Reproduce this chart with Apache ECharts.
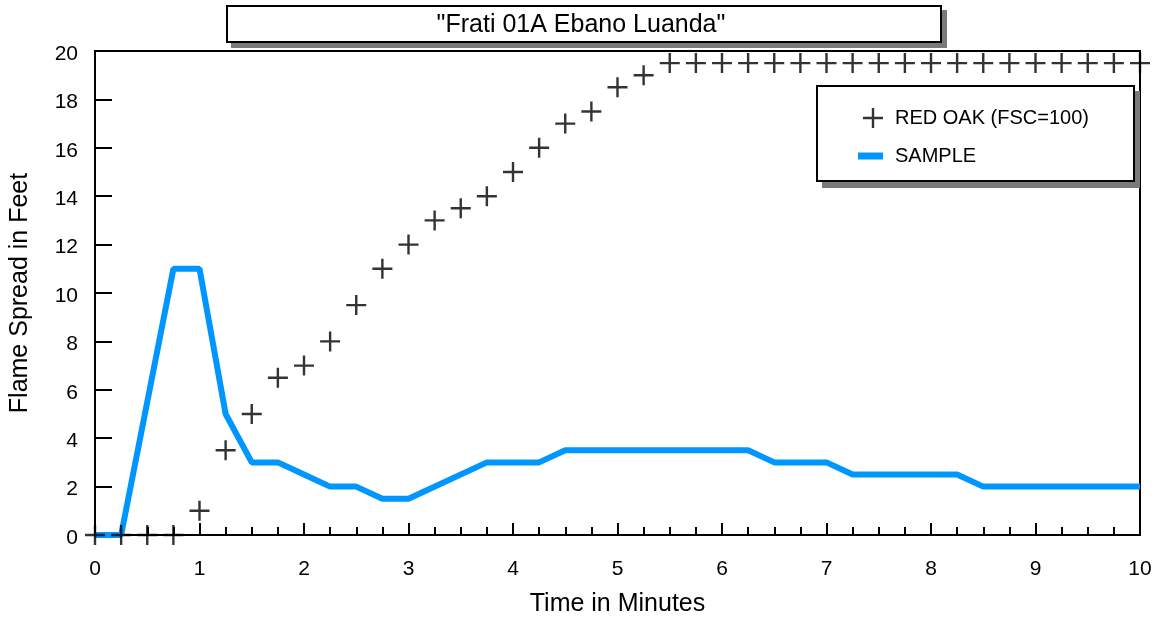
<!DOCTYPE html>
<html><head><meta charset="utf-8">
<script src="https://cdn.jsdelivr.net/npm/echarts@6/dist/echarts.min.js"></script>
<style>html,body{margin:0;padding:0;background:#fff}#c{width:1162px;height:622px}</style>
</head><body><div id="c"></div>
<script>
const chartTitle = '"Frati 01A Ebano Luanda"';
const xAxisName = 'Time in Minutes';
const yAxisName = 'Flame Spread in Feet';
const seriesNames = ['RED OAK (FSC=100)', 'SAMPLE'];

const redOakTime = [0, 0.25, 0.5, 0.75, 1, 1.25, 1.5, 1.75, 2, 2.25, 2.5, 2.75, 3, 3.25, 3.5, 3.75, 4, 4.25, 4.5, 4.75, 5, 5.25, 5.5, 5.75, 6, 6.25, 6.5, 6.75, 7, 7.25, 7.5, 7.75, 8, 8.25, 8.5, 8.75, 9, 9.25, 9.5, 9.75, 10];
const redOakSpread = [0, 0, 0, 0, 1, 3.5, 5, 6.5, 7, 8, 9.5, 11, 12, 13, 13.5, 14, 15, 16, 17, 17.5, 18.5, 19, 19.5, 19.5, 19.5, 19.5, 19.5, 19.5, 19.5, 19.5, 19.5, 19.5, 19.5, 19.5, 19.5, 19.5, 19.5, 19.5, 19.5, 19.5, 19.5];

const sampleTime = [0, 0.25, 0.75, 1, 1.25, 1.5, 1.75, 2, 2.25, 2.5, 2.75, 3, 3.75, 4.25, 4.5, 6.25, 6.5, 7, 7.25, 8.25, 8.5, 10];
const sampleSpread = [0, 0, 11, 11, 5, 3, 3, 2.5, 2, 2, 1.5, 1.5, 3, 3, 3.5, 3.5, 3, 3, 2.5, 2.5, 2, 2];

const FONT = 'Liberation Sans, Arial, sans-serif';
const BLUE = '#0096ff';
const PLUS = 'path://M8.8,0H11.2V8.8H20V11.2H11.2V20H8.8V11.2H0V8.8H8.8Z';

const chart = echarts.init(document.getElementById('c'));
chart.setOption({
  animation: false,
  backgroundColor: '#fff',
  textStyle: { fontFamily: FONT, color: '#000' },
  title: {
    text: chartTitle, left: 'center', top: 13, padding: 0,
    textStyle: { fontFamily: FONT, fontSize: 25, fontWeight: 'normal', color: '#000' }
  },
  graphic: [
    { type: 'rect', z: 1, shape: { x: 231, y: 10, width: 716, height: 38 }, style: { fill: '#7a7a7a' } },
    { type: 'rect', z: 2, shape: { x: 227, y: 6, width: 714, height: 36 }, style: { fill: '#fff', stroke: '#000', lineWidth: 2 } },
    { type: 'rect', z: 3, shape: { x: 822, y: 91, width: 318, height: 97 }, style: { fill: '#7a7a7a' } },
    { type: 'rect', z: 3, shape: { x: 817, y: 86, width: 317, height: 95 }, style: { fill: '#fff', stroke: '#000', lineWidth: 2 } }
  ],
  legend: [
    {
      data: [{ name: seriesNames[0], icon: PLUS }],
      left: 863, top: 108, padding: 0, itemWidth: 20, itemHeight: 20,
      selectedMode: false, z: 10,
      textStyle: { fontFamily: FONT, fontSize: 20, color: '#000', padding: [0, 0, 0, 7] }
    },
    {
      data: [{ name: seriesNames[1], icon: 'rect' }],
      left: 858, top: 146, padding: 0, itemWidth: 25, itemHeight: 7,
      selectedMode: false, z: 10,
      textStyle: { fontFamily: FONT, fontSize: 20, color: '#000', padding: [0, 0, 0, 7] }
    }
  ],
  grid: { left: 93, right: 22, top: 51, bottom: 85, show: true, borderColor: '#000', borderWidth: 2, backgroundColor: 'transparent' },
  xAxis: {
    type: 'value', min: 0, max: 10, interval: 1,
    name: xAxisName, nameLocation: 'middle', nameGap: 57,
    nameTextStyle: { fontFamily: FONT, fontSize: 25, color: '#000' },
    axisLine: { show: true, onZero: false, lineStyle: { color: '#000', width: 2 } },
    axisTick: { show: true, inside: true, length: 12, lineStyle: { color: '#000', width: 2 } },
    minorTick: { show: true, splitNumber: 4, length: 8, lineStyle: { color: '#000', width: 2 } },
    axisLabel: { fontFamily: FONT, fontSize: 21, color: '#000', margin: 24 },
    splitLine: { show: false }, minorSplitLine: { show: false }
  },
  yAxis: {
    type: 'value', min: 0, max: 20, interval: 2,
    name: yAxisName, nameLocation: 'middle', nameGap: 62,
    nameTextStyle: { fontFamily: FONT, fontSize: 25, color: '#000' },
    axisLine: { show: true, onZero: false, lineStyle: { color: '#000', width: 2 } },
    axisTick: { show: true, inside: true, length: 17, lineStyle: { color: '#000', width: 2 } },
    axisLabel: { fontFamily: FONT, fontSize: 21, color: '#000', margin: 17, verticalAlign: 'top', lineHeight: 6 },
    splitLine: { show: false }
  },
  series: [
    {
      name: seriesNames[1], type: 'line', z: 2, clip: false,
      data: sampleTime.map((t, i) => [t, sampleSpread[i]]),
      showSymbol: false, symbol: 'none',
      itemStyle: { color: BLUE },
      lineStyle: { color: BLUE, width: 6 },
      emphasis: { disabled: true }
    },
    {
      name: seriesNames[0], type: 'scatter', z: 4, clip: false,
      data: redOakTime.map((t, i) => [t, redOakSpread[i]]),
      symbol: PLUS, symbolSize: 20,
      itemStyle: { color: '#000' },
      emphasis: { disabled: true }
    }
  ]
});
</script></body></html>
